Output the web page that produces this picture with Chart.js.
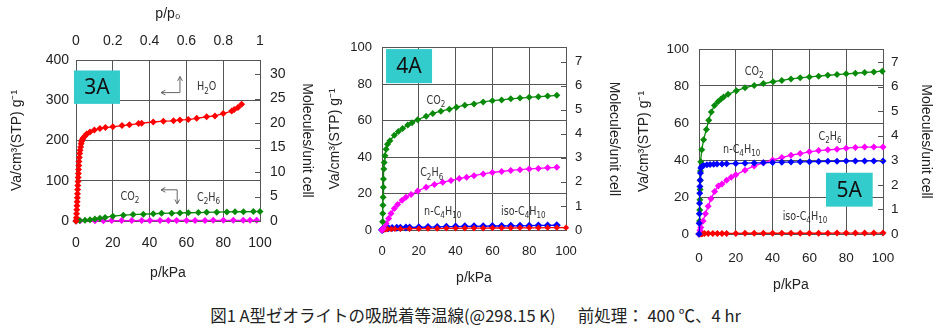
<!DOCTYPE html>
<html lang="ja">
<head>
<meta charset="UTF-8">
<title>A型ゼオライトの吸脱着等温線</title>
<script src="https://cdn.jsdelivr.net/npm/chart.js"></script>
<style>
  body { margin: 0; background: #fff; width: 951px; height: 335px; position: relative; overflow: hidden; }
  canvas { position: absolute; }
  #caption {
    position: absolute; left: 0; top: 303px; width: 951px;
    text-align: center; white-space: pre;
    font-family: 'Noto Sans CJK JP', sans-serif; font-size: 16.5px; color: #222;
  }
</style>
</head>
<body>
<canvas id="c3A" width="320" height="295" style="left:0;top:0"></canvas>
<canvas id="c4A" width="312" height="265" style="left:318px;top:30px"></canvas>
<canvas id="c5A" width="321" height="270" style="left:630px;top:30px"></canvas>
<div id="caption">図1 A型ゼオライトの吸脱着等温線(@298.15 K)      前処理： 400 ℃、4 hr</div>

<script>
// ---- 3A ----  (H2O plotted against p/p0, others against p/kPa)
const h2o3A_pp0 = [0, 0.002, 0.003, 0.004, 0.005, 0.006, 0.007, 0.008, 0.009, 0.010, 0.011, 0.012, 0.013, 0.014, 0.015, 0.016, 0.018, 0.020, 0.022, 0.025, 0.028, 0.031, 0.035, 0.040, 0.050, 0.058, 0.076, 0.10, 0.13, 0.16, 0.20, 0.25, 0.29, 0.34, 0.357, 0.42, 0.475, 0.53, 0.565, 0.61, 0.656, 0.71, 0.755, 0.80, 0.846, 0.86, 0.88, 0.90];
const h2o3A_va  = [0, 8, 18, 28, 38, 48, 58, 68, 78, 88, 98, 108, 118, 128, 138, 148, 158, 168, 176, 184, 192, 198, 203, 207, 212, 216, 221, 226, 230, 232, 234, 237, 239, 242, 243, 246, 248, 249, 251, 252, 255, 259, 261, 267, 273, 277, 282, 290];
const co2_3A_p  = [0, 2, 4.9, 7.6, 10.3, 13, 15.8, 20, 25.7, 31, 36.6, 42, 46.5, 52, 56.5, 61, 66.5, 71, 76.5, 82, 86.4, 91, 96.4, 100];
const co2_3A_va = [0, 1, 2, 3.3, 5, 7, 9, 12, 14.5, 16, 17, 18, 19, 19.5, 20, 20.5, 21, 21.5, 22, 22.5, 23, 23, 23.5, 23.7];
const c2h6_3A_p  = [0, 2.2, 10.3, 14.9, 19.4, 24.8, 30.3, 35.7, 40.2, 45.7, 50.2, 54.7, 60.1, 64.7, 70.1, 74.6, 80.1, 85.5, 90.9, 94.6, 98.2];
const c2h6_3A_va = [0, 0.5, 0.7, 0.8, 1, 1, 1.1, 1.2, 1.2, 1.3, 1.3, 1.4, 1.4, 1.5, 1.5, 1.6, 1.6, 1.7, 1.7, 1.8, 1.8];

// ---- 4A ----
const co2_4A_p  = [0.3, 0.4, 0.5, 0.6, 0.7, 0.8, 1, 1.2, 1.6, 2.2, 3, 4.3, 6.7, 8.9, 11.2, 14, 16.3, 19.4, 24, 27.6, 32, 36.6, 40.5, 45, 50, 55, 60, 65, 70, 75, 80, 85, 90, 95];
const co2_4A_va = [4.5, 9, 13.6, 18, 23.5, 28, 33.5, 37, 40.7, 44.3, 47, 49, 52, 54, 55.7, 57.6, 58.9, 60.5, 62.5, 64, 65.2, 66.3, 67.4, 68.5, 69.2, 70.3, 71, 71.4, 72, 72.4, 72.8, 73.2, 73.5, 73.9];
const c2h6_4A_p  = [0, 0.7, 2.2, 3.6, 4.9, 6.7, 8.5, 10.9, 13, 15.8, 19.4, 24, 28.5, 33, 37.5, 42, 46, 50, 55, 60, 65, 70, 75, 80, 85, 90, 95];
const c2h6_4A_va = [0, 1, 3.6, 6.3, 9, 11.8, 14, 16.3, 18, 19.5, 21.4, 23.5, 25, 26.2, 27.2, 28.2, 29, 29.8, 30.8, 31.6, 32.1, 32.7, 33.1, 33.5, 33.8, 34.1, 34.4];
const nc4_4A_p  = [0, 0.3, 0.6, 1, 2, 3.5, 5.5, 8, 10, 13, 15, 20, 25, 30, 35, 40, 45, 50, 55, 60, 65, 70, 75, 80, 85, 90, 95];
const nc4_4A_va = [0, 0.3, 0.5, 0.7, 0.9, 1, 1.1, 1.2, 1.3, 1.4, 1.4, 1.5, 1.6, 1.7, 1.8, 1.9, 2, 2, 2.1, 2.2, 2.2, 2.3, 2.3, 2.4, 2.5, 2.5, 2.6];
const iso_4A_p  = [0, 0.5, 1, 2, 3, 5, 7, 10, 15, 20, 25, 30, 35, 40, 45, 50, 55, 60, 65, 70, 75, 80, 85, 90, 95, 100];
const iso_4A_va = [0, 0.2, 0.3, 0.4, 0.5, 0.5, 0.6, 0.6, 0.7, 0.7, 0.8, 0.8, 0.9, 0.9, 1, 1, 1, 1.1, 1.1, 1.1, 1.2, 1.2, 1.2, 1.3, 1.3, 1.3];

// ---- 5A ----
const co2_5A_p  = [0, 0.3, 0.4, 0.5, 0.6, 0.7, 0.8, 1, 1.5, 2.5, 4, 5.3, 6.7, 8.4, 10.3, 12, 13.4, 15.8, 20.3, 25, 30, 35, 40.3, 45, 50, 55, 60, 65, 70, 75, 80, 85, 90, 95, 99.6];
const co2_5A_va = [0, 7, 13, 18.5, 24, 29, 34, 39, 45.5, 51, 56.5, 61.5, 66, 69.5, 71.5, 73, 74, 75.5, 77.5, 79, 80.3, 81.3, 82.3, 83, 83.8, 84.4, 84.9, 85.3, 85.8, 86.2, 86.6, 86.9, 87.3, 87.6, 88];
const nc4_5A_p  = [0, 0.1, 0.2, 0.3, 0.4, 0.5, 0.6, 0.8, 1, 1.5, 2.5, 4.3, 6, 8, 9.8, 12.5, 15, 20, 25, 30, 35, 40, 45, 50, 55, 60, 65, 70, 75, 80, 85, 90, 95, 100];
const nc4_5A_va = [0, 5.8, 11, 16.6, 22, 25.7, 29, 33, 35.7, 36.5, 37, 37.5, 37.6, 37.7, 37.8, 37.9, 38, 38.1, 38.3, 38.4, 38.5, 38.7, 38.8, 38.9, 39, 39.1, 39.2, 39.3, 39.3, 39.4, 39.4, 39.5, 39.5, 39.5];
const c2h6_5A_p  = [0, 0.5, 1, 2.2, 3.5, 5, 6.5, 8.5, 10.5, 12.5, 15, 17.5, 20, 25, 30, 35, 40, 45, 50, 55, 60, 65, 70, 75, 80, 85, 90, 95, 100];
const c2h6_5A_va = [0, 2, 3.5, 7, 11, 15, 19, 23, 26, 27, 29, 30.7, 32, 34.5, 36.8, 38.5, 40, 41.3, 42.6, 43.5, 44.4, 45.1, 45.5, 45.8, 46.4, 46.8, 47, 47, 47];
const iso_5A_p  = [0, 0.3, 0.6, 1, 1.5, 2, 3, 5, 7.5, 10, 12.5, 15, 20, 25, 30, 35, 40, 45, 50, 55, 60, 65, 70, 75, 80, 85, 90, 95, 100];
const iso_5A_va = [0, 0.1, 0.2, 0.2, 0.2, 0.3, 0.3, 0.3, 0.3, 0.3, 0.3, 0.3, 0.3, 0.4, 0.4, 0.4, 0.4, 0.4, 0.4, 0.4, 0.4, 0.4, 0.4, 0.5, 0.5, 0.5, 0.5, 0.5, 0.5];

// tick labels
const pTicks = [0, 20, 40, 60, 80, 100];
const pp0Ticks = [0, 0.2, 0.4, 0.6, 0.8, 1];
const molTicks3A = [0, 5, 10, 15, 20, 25, 30];
const molTicks = [0, 1, 2, 3, 4, 5, 6, 7];

const RED = '#ff0000', GREEN = '#0a8a0a', MAGENTA = '#ff00ff', BLUE = '#0000ff';
const FAMILY = "'Liberation Sans', Arial, sans-serif";
const txt = '#222';
const gridCol = '#555';

const pts = (xs, ys) => xs.map((x, i) => ({ x, y: ys[i] }));

function series(data, color, r, axis) {
    return {
        data, xAxisID: axis || 'x', yAxisID: 'y',
        showLine: true, borderColor: color, backgroundColor: color,
        borderWidth: 1.3, pointStyle: 'rectRot', pointRadius: r,
        pointBorderWidth: 0, clip: false
    };
}

// write a formula, digits as subscripts, slightly condensed
function chem(ctx, text, x, y, size) {
    const runs = text.split('').map(c => ({ c, sub: /[0-9]/.test(c) }));
    const main = size + "px 'DejaVu Sans', sans-serif";
    const sub = Math.round(size * 0.72) + "px 'DejaVu Sans', sans-serif";
    let w = 0;
    runs.forEach(r => { ctx.font = r.sub ? sub : main; r.w = ctx.measureText(r.c).width; w += r.w; });
    ctx.save();
    ctx.translate(x, y);
    ctx.scale(0.8, 1);
    ctx.fillStyle = '#333';
    ctx.textBaseline = 'middle';
    ctx.textAlign = 'left';
    let cx = -w / 2;
    runs.forEach(r => {
        ctx.font = r.sub ? sub : main;
        ctx.fillText(r.c, cx, r.sub ? size * 0.32 : 0);
        cx += r.w;
    });
    ctx.restore();
}

function arrowHead(ctx, fx, fy, tx, ty) {
    const a = Math.atan2(ty - fy, tx - fx), L = 5;
    ctx.beginPath();
    ctx.moveTo(tx - L * Math.cos(a - 0.5), ty - L * Math.sin(a - 0.5));
    ctx.lineTo(tx, ty);
    ctx.lineTo(tx - L * Math.cos(a + 0.5), ty - L * Math.sin(a + 0.5));
    ctx.stroke();
}

const notesPlugin = {
    id: 'notes',
    afterDatasetsDraw(chart, args, opts) {
        const ctx = chart.ctx, xs = chart.scales.x, ys = chart.scales.y, r2 = chart.scales.y2;
        const area = chart.chartArea;
        const X = v => xs.getPixelForValue(v), Y = v => ys.getPixelForValue(v);
        ctx.save();
        // small inward ticks of the right axis
        ctx.strokeStyle = gridCol; ctx.lineWidth = 1;
        r2.ticks.forEach(t => {
            const py = Math.round(r2.getPixelForValue(t.value)) + 0.5;
            ctx.beginPath(); ctx.moveTo(area.right - 5, py); ctx.lineTo(area.right, py); ctx.stroke();
        });
        (opts.arrows || []).forEach(a => {
            const p = a.map(q => [X(q[0]), Y(q[1])]);
            ctx.strokeStyle = '#666'; ctx.lineWidth = 1;
            ctx.beginPath();
            p.forEach((q, i) => i ? ctx.lineTo(q[0], q[1]) : ctx.moveTo(q[0], q[1]));
            ctx.stroke();
            arrowHead(ctx, p[1][0], p[1][1], p[0][0], p[0][1]);
            arrowHead(ctx, p[p.length - 2][0], p[p.length - 2][1], p[p.length - 1][0], p[p.length - 1][1]);
        });
        (opts.labels || []).forEach(l => chem(ctx, l.text, X(l.x), Y(l.y), 12));
        (opts.boxes || []).forEach(b => {
            const x0 = X(b.x0), x1 = X(b.x1), y0 = Y(b.y0), y1 = Y(b.y1);
            ctx.fillStyle = '#33cccc';
            ctx.fillRect(x0, y0, x1 - x0, y1 - y0);
            ctx.fillStyle = '#111';
            ctx.font = "21px 'Noto Sans', sans-serif";
            ctx.textAlign = 'center'; ctx.textBaseline = 'middle';
            ctx.fillText(b.text, (x0 + x1) / 2, (y0 + y1) / 2 + 1);
        });
        ctx.restore();
    }
};

function scalesFor(p) {
    const tf = { family: FAMILY, size: p.fs };
    const ttl = { family: FAMILY, size: 14 };
    const sc = {
        x: {
            type: 'linear', position: 'bottom', min: 0, max: 100,
            afterBuildTicks: s => { s.ticks = pTicks.map(v => ({ value: v })); },
            ticks: { font: tf, color: txt, padding: p.xPad, maxRotation: 0 },
            grid: { color: gridCol, drawTicks: false },
            border: { color: gridCol },
            title: { display: true, text: 'p/kPa', font: ttl, color: txt, padding: { top: 0, bottom: p.xTitle } },
            afterFit: s => { s.height = p.xH; }
        },
        y: {
            type: 'linear', position: 'left', min: 0, max: p.yMax,
            ticks: { stepSize: p.yStep, font: tf, color: txt, padding: p.yPad },
            grid: { color: gridCol, drawTicks: false },
            border: { color: gridCol },
            title: { display: true, text: 'Va/cm³(STP) g⁻¹', font: ttl, color: txt, padding: { top: p.yTitle, bottom: 0 } },
            afterFit: s => { s.width = p.yW; }
        },
        y2: {
            type: 'linear', position: 'right', min: 0, max: p.rMax,
            afterBuildTicks: s => { s.ticks = p.rTicks.map(v => ({ value: v })); },
            ticks: { font: tf, color: txt, padding: p.rPad },
            grid: { drawOnChartArea: false, drawTicks: false },
            border: { color: gridCol },
            title: { display: true, text: 'Molecules/unit cell', font: ttl, color: txt, padding: { top: p.rTitle, bottom: 0 } },
            afterFit: s => { s.width = p.rW; }
        }
    };
    if (p.top) {
        sc.x2 = {
            type: 'linear', position: 'top', min: 0, max: 1,
            afterBuildTicks: s => { s.ticks = pp0Ticks.map(v => ({ value: v })); },
            ticks: { font: tf, color: txt, padding: p.top.pad, maxRotation: 0, callback: v => String(+v.toFixed(1)) },
            grid: { drawOnChartArea: false, drawTicks: false },
            border: { display: false },
            title: { display: true, text: 'p/p₀', font: ttl, color: txt, padding: { top: p.top.title, bottom: 0 } },
            afterFit: s => { s.height = p.top.h; }
        };
    }
    return sc;
}

function makeChart(id, datasets, layoutPad, p, notes) {
    return new Chart(document.getElementById(id), {
        type: 'scatter',
        data: { datasets },
        options: {
            responsive: false, animation: false,
            layout: { padding: layoutPad },
            scales: scalesFor(p),
            plugins: { legend: { display: false }, tooltip: { enabled: false }, notes }
        },
        plugins: [notesPlugin]
    });
}

// 3A
makeChart('c3A', [
    series(pts(h2o3A_pp0, h2o3A_va), RED, 3.5, 'x2'),
    series(pts(co2_3A_p, co2_3A_va), GREEN, 3.5),
    series(pts(c2h6_3A_p, c2h6_3A_va), MAGENTA, 3.5)
], { left: 4, right: 5, top: 3, bottom: 7 },
{ fs: 14, xH: 67, xPad: 14, xTitle: 6, yMax: 400, yStep: 100, yW: 72, yPad: 7, yTitle: 5,
  rMax: 32.88, rTicks: molTicks3A, rW: 55, rPad: 10, rTitle: 0, top: { h: 57, pad: 10, title: 3 } },
{
    boxes: [{ x0: -1.1, x1: 23.9, y0: 374, y1: 291, text: '3A' }],
    labels: [{ x: 71, y: 332, text: 'H2O' }, { x: 29.3, y: 60.5, text: 'CO2' }, { x: 72, y: 56.5, text: 'C2H6' }],
    arrows: [[[46.2, 319], [56.5, 319], [56.5, 359]], [[46.2, 77.5], [55, 77.5], [55, 42.5]]]
});

// 4A
makeChart('c4A', [
    series(pts(co2_4A_p, co2_4A_va), GREEN, 3.5),
    series(pts(c2h6_4A_p, c2h6_4A_va), MAGENTA, 3.5),
    series(pts(iso_4A_p, iso_4A_va), RED, 3.2),
    series(pts(nc4_4A_p, nc4_4A_va), BLUE, 4)
], { left: 3, right: 3, top: 16, bottom: 5 },
{ fs: 13, xH: 60, xPad: 14, xTitle: 3, yMax: 100, yStep: 20, yW: 61, yPad: 10, yTitle: 6,
  rMax: 7.575, rTicks: molTicks, rW: 61, rPad: 9, rTitle: 5 },
{
    boxes: [{ x0: 2.2, x1: 27.2, y0: 99.3, y1: 80.6, text: '4A' }],
    labels: [{ x: 29.3, y: 71, text: 'CO2' }, { x: 27, y: 31.1, text: 'C2H6' },
             { x: 33, y: 10, text: 'n-C4H10' }, { x: 76.8, y: 10, text: 'iso-C4H10' }]
});

// 5A
makeChart('c5A', [
    series(pts(nc4_5A_p, nc4_5A_va), BLUE, 3.5),
    series(pts(c2h6_5A_p, c2h6_5A_va), MAGENTA, 3.5),
    series(pts(co2_5A_p, co2_5A_va), GREEN, 3.5),
    series(pts(iso_5A_p, iso_5A_va), RED, 3.5)
], { left: 3, right: 5, top: 19, bottom: 2 },
{ fs: 13.5, xH: 64, xPad: 16, xTitle: 4, yMax: 100, yStep: 20, yW: 66, yPad: 10, yTitle: 3,
  rMax: 7.53, rTicks: molTicks, rW: 63, rPad: 8, rTitle: 12 },
{
    boxes: [{ x0: 69, x1: 94.4, y0: 33.1, y1: 14.8, text: '5A' }],
    labels: [{ x: 30, y: 87.7, text: 'CO2' }, { x: 71.2, y: 52.6, text: 'C2H6' },
             { x: 23.2, y: 45.4, text: 'n-C4H10' }, { x: 57.6, y: 9.4, text: 'iso-C4H10' }]
});
</script>
</body>
</html>
